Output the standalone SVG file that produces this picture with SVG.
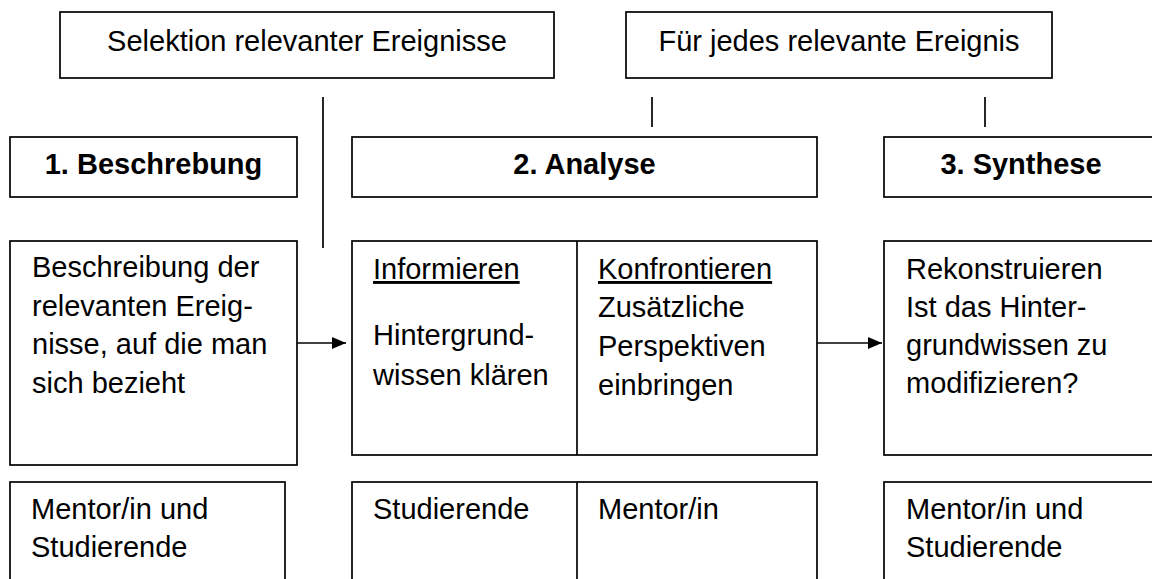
<svg xmlns="http://www.w3.org/2000/svg" width="1152" height="579" viewBox="0 0 1152 579">
<style>
.box{fill:#fff;stroke:#000;stroke-width:1.7}
.ln{stroke:#000;stroke-width:1.7;fill:none}
text{font-family:"Liberation Sans",Arial,sans-serif;font-size:29px;fill:#000}
.b{font-weight:bold}
.c{text-anchor:middle}
.u{text-decoration:underline}
</style>
<defs>
<marker id="ah" viewBox="0 0 14 12" refX="14" refY="6" markerWidth="14" markerHeight="12" markerUnits="userSpaceOnUse" orient="auto">
<path d="M0,0 L14,6 L0,12 Z" fill="#000"/>
</marker>
</defs>
<rect width="1152" height="579" fill="#fff"/>
<g id="top-selektion"><rect class="box" x="60" y="12" width="494" height="66"/><text class="c" x="307" y="51">Selektion relevanter Ereignisse</text></g>
<g id="top-fuer-jedes"><rect class="box" x="626" y="12" width="426" height="66"/><text class="c" x="839" y="51">Für jedes relevante Ereignis</text></g>
<g id="h-beschreibung"><rect class="box" x="10" y="137" width="287" height="60"/><text class="b c" x="153.5" y="174">1. Beschrebung</text></g>
<g id="h-analyse"><rect class="box" x="352" y="137" width="465" height="60"/><text class="b c" x="584.5" y="174">2. Analyse</text></g>
<g id="h-synthese"><rect class="box" x="884" y="137" width="276" height="60"/><text class="b c" x="1021" y="174">3. Synthese</text></g>
<g id="m-beschreibung"><rect class="box" x="10" y="241" width="287" height="224"/>
<text x="32" y="277">Beschreibung der</text><text x="32" y="315.5">relevanten Ereig-</text><text x="32" y="354">nisse, auf die man</text><text x="32" y="392.5">sich bezieht</text></g>
<g id="m-analyse"><rect class="box" x="352" y="241" width="465" height="214"/><line class="ln" x1="577" y1="241" x2="577" y2="455"/>
<text class="u" x="373" y="279">Informieren</text><text x="373" y="345">Hintergrund-</text><text x="373" y="385">wissen klären</text>
<text class="u" x="598" y="279">Konfrontieren</text><text x="598" y="317">Zusätzliche</text><text x="598" y="356">Perspektiven</text><text x="598" y="395">einbringen</text></g>
<g id="m-synthese"><rect class="box" x="884" y="241" width="276" height="214"/>
<text x="906" y="279">Rekonstruieren</text><text x="906" y="317">Ist das Hinter-</text><text x="906" y="355">grundwissen zu</text><text x="906" y="393">modifizieren?</text></g>
<g id="b-beschreibung"><rect class="box" x="10" y="482" width="275" height="110"/><text x="31" y="519">Mentor/in und</text><text x="31" y="557">Studierende</text></g>
<g id="b-analyse"><rect class="box" x="352" y="482" width="465" height="110"/><line class="ln" x1="577" y1="482" x2="577" y2="592"/><text x="373" y="519">Studierende</text><text x="598" y="519">Mentor/in</text></g>
<g id="b-synthese"><rect class="box" x="884" y="482" width="276" height="110"/><text x="906" y="519">Mentor/in und</text><text x="906" y="557">Studierende</text></g>
<g id="connectors">
<line class="ln" x1="323" y1="97" x2="323" y2="248"/>
<line class="ln" x1="652" y1="97" x2="652" y2="127"/>
<line class="ln" x1="985" y1="97" x2="985" y2="127"/>
<line class="ln" x1="297" y1="343" x2="346" y2="343" marker-end="url(#ah)"/>
<line class="ln" x1="817" y1="343" x2="882" y2="343" marker-end="url(#ah)"/>
</g>
</svg>
